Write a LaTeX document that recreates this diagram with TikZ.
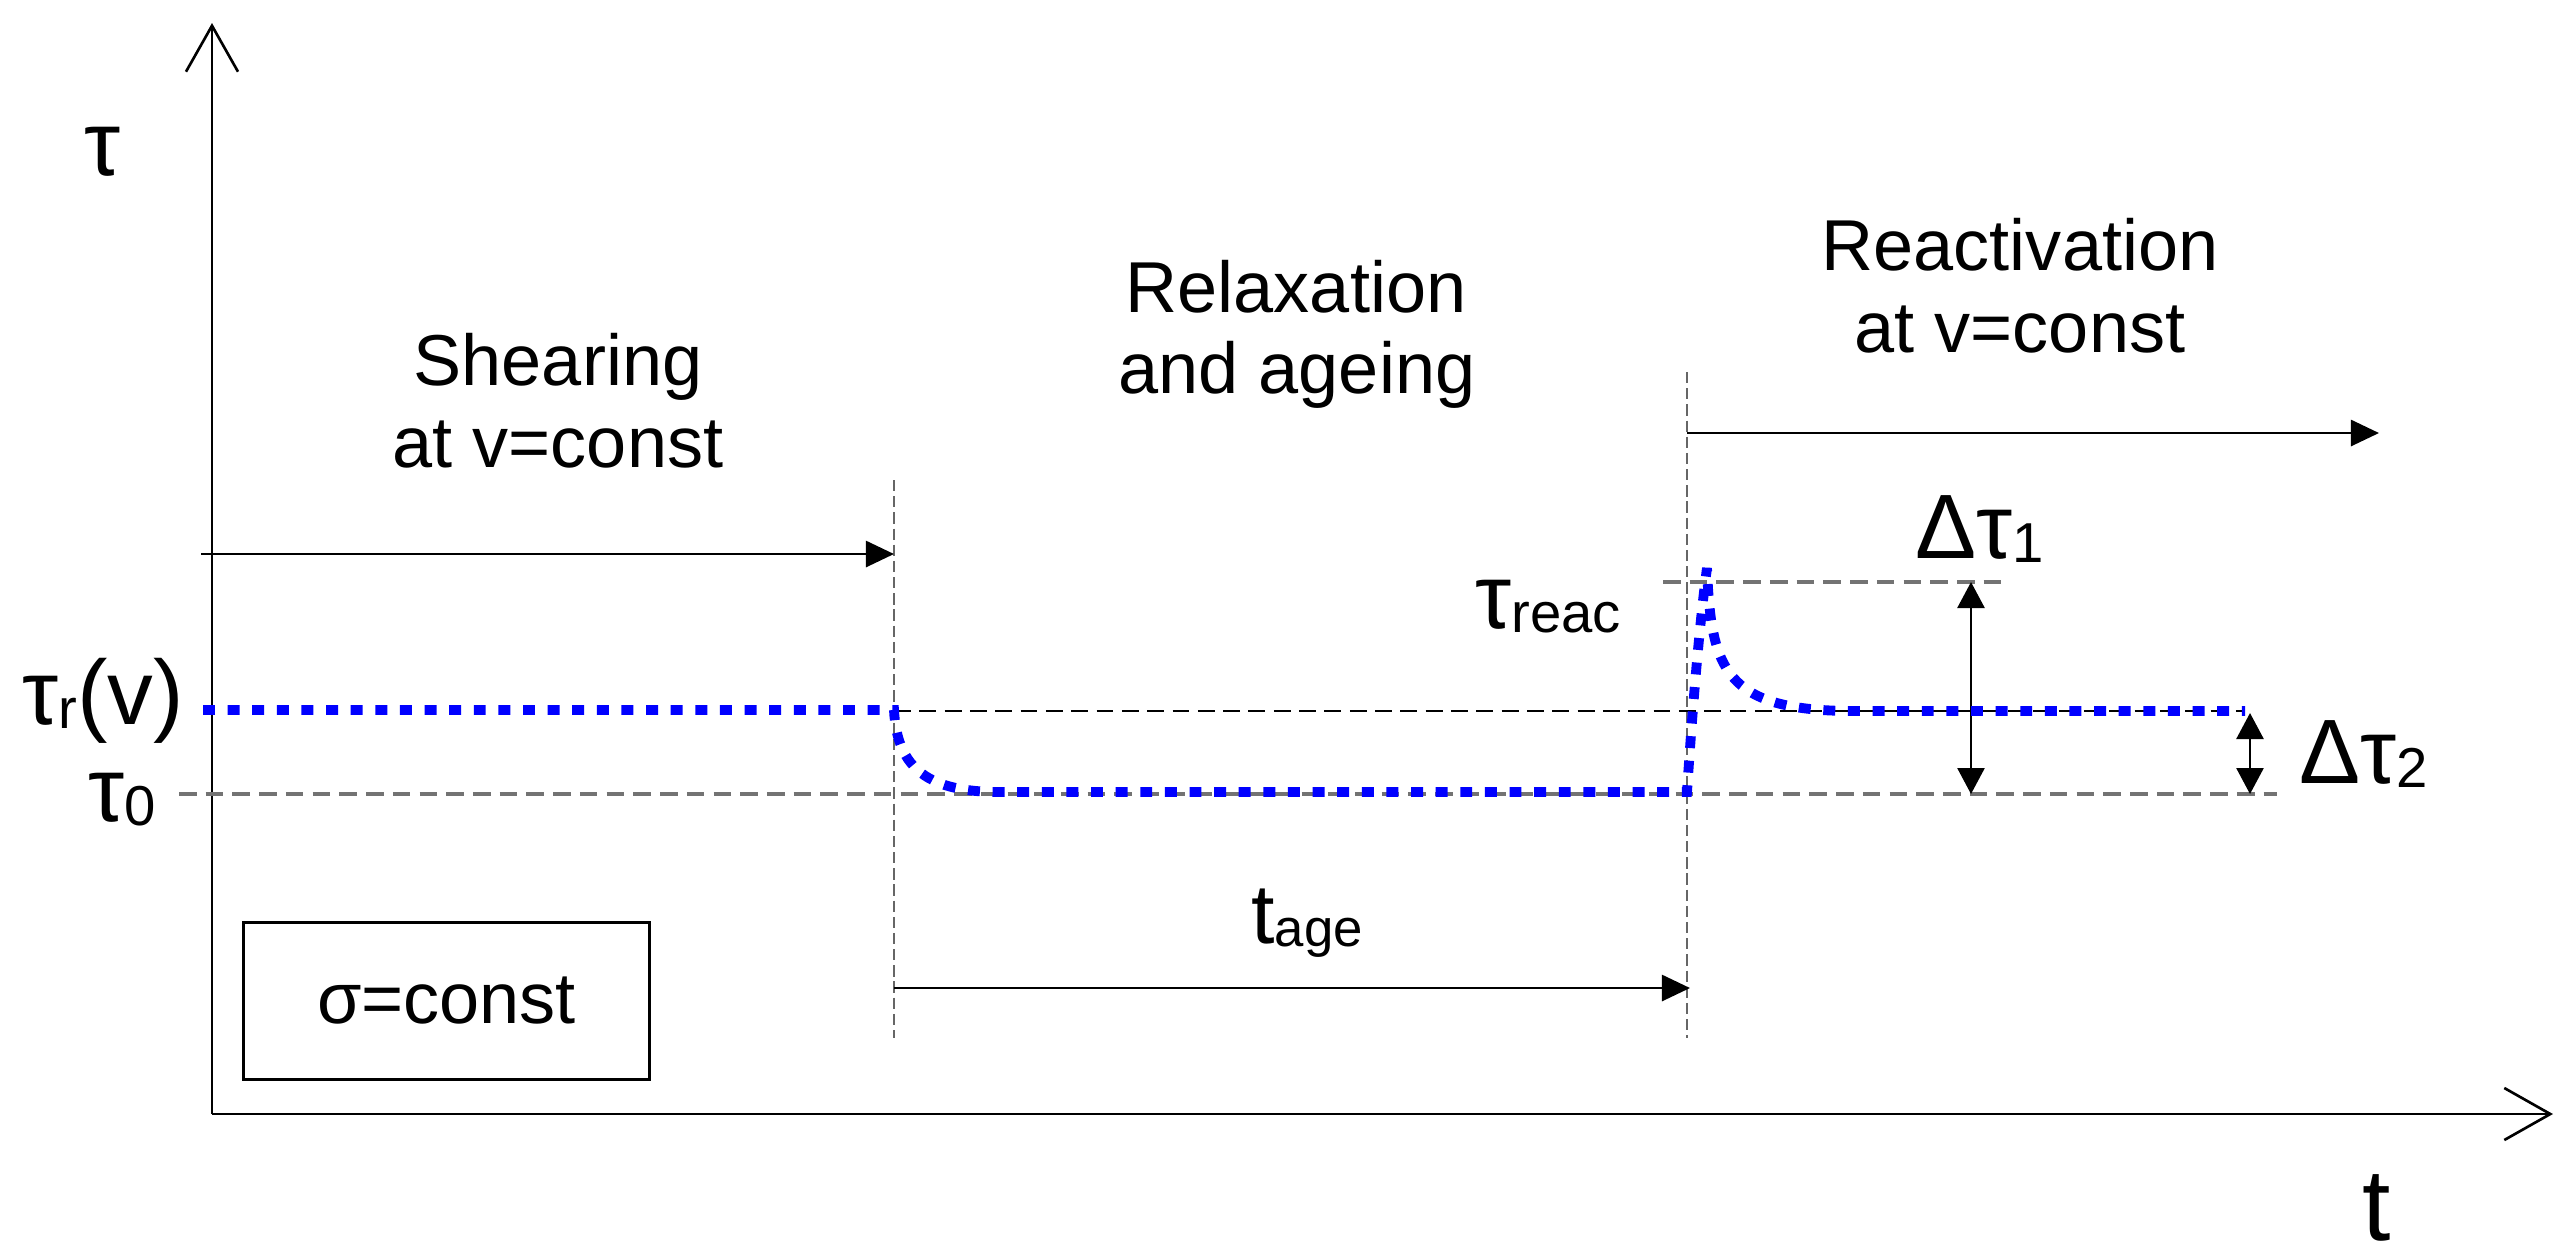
\documentclass[tikz,border=0pt]{standalone}
\usepackage{fontspec}
\setmainfont{Liberation Sans}
\usetikzlibrary{arrows.meta}
\newcommand\mysub[1]{\raisebox{-1.2pt}{\fontsize{16}{16}\selectfont #1}}
\begin{document}
\begin{tikzpicture}[x=0.01cm,y=-0.01cm,
  lbl/.style={inner sep=0pt, outer sep=0pt, font=\fontsize{20.5}{24}\selectfont},
  sym/.style={inner sep=0pt, outer sep=0pt, font=\fontsize{26}{30}\selectfont},
  axisarrow/.style={line width=0.75pt, -{Straight Barb[length=0.46cm,width=0.52cm,line width=0.75pt]}},
  phasearrow/.style={line width=0.75pt, -{Triangle[length=0.28cm,width=0.26cm]}},
  deltaarrow/.style={line width=0.75pt, {Triangle[length=0.26cm,width=0.27cm]}-{Triangle[length=0.26cm,width=0.27cm]}},
  hdash/.style={line width=0.6pt, dash pattern=on 4.8pt off 2.4pt, black},
  levdash/.style={line width=0.9pt, dash pattern=on 5pt off 2.6pt, black!55},
  vdash/.style={line width=0.5pt, dash pattern=on 3.2pt off 1.4pt, black!60},
  blueline/.style={line width=2.8pt, dash pattern=on 3.4pt off 3.6pt, blue}
]
\useasboundingbox (0,0) rectangle (2571,1259);

% coordinates
\coordinate (O) at (212,1114);
\coordinate (ytip) at (212,23);
\coordinate (xtip) at (2553,1114);
\coordinate (sh0) at (201,554);
\coordinate (sh1) at (894,554);
\coordinate (re0) at (1687,433);
\coordinate (re1) at (2379,433);
\coordinate (ag0) at (894,988);
\coordinate (ag1) at (1690,988);
\coordinate (v1top) at (894,480);
\coordinate (v1bot) at (894,1038);
\coordinate (v2top) at (1687,372);
\coordinate (v2bot) at (1687,1038);
\coordinate (rc0) at (1663,582);
\coordinate (rc1) at (2003,582);
\coordinate (tr0) at (894,711);
\coordinate (tr1) at (2245,711);
\coordinate (t00) at (179,794);
\coordinate (t01) at (2277,794);
\coordinate (d1a) at (1971,582);
\coordinate (d1b) at (1971,794);
\coordinate (d2a) at (2250,713);
\coordinate (d2b) at (2250,794);

% axes
\draw[axisarrow] (O) -- (ytip);
\draw[axisarrow] (O) -- (xtip);

% vertical phase separators
\draw[vdash] (v1top) -- (v1bot);
\draw[vdash] (v2top) -- (v2bot);

% level lines
\draw[levdash] (t00) -- (t01);
\draw[hdash] (tr0) -- (tr1);
\draw[levdash] (rc0) -- (rc1);

% phase arrows
\draw[phasearrow] (sh0) -- (sh1);
\draw[phasearrow] (re0) -- (re1);
\draw[phasearrow] (ag0) -- (ag1);

% delta arrows
\draw[deltaarrow] (d1a) -- (d1b);
\draw[deltaarrow] (d2a) -- (d2b);

% stress curve
\draw[blueline] (203,710) -- (894,710)
  .. controls (897,770) and (930,792) .. (1000,792) -- (1687,792)
  .. controls (1693,700) and (1700,620) .. (1707,568)
  .. controls (1711,670) and (1725,710) .. (1850,711) -- (2245,711);

% texts
\node[lbl, anchor=base] (sh1t) at (558,385) {Shearing};
\node[lbl, anchor=base] (sh2t) at (558,467) {at v=const};
\node[lbl, anchor=base] (rl1t) at (1296,312) {Relaxation};
\node[lbl, anchor=base] (rl2t) at (1297,393) {and ageing};
\node[lbl, anchor=base] (ra1t) at (2020,270) {Reactivation};
\node[lbl, anchor=base] (ra2t) at (2020,352) {at v=const};

\node[sym] (taulab) at (103,152) {τ};
\node[inner sep=0pt, font=\fontsize{29}{32}\selectfont, anchor=base] (tlab) at (2377,1240) {t};
\node[sym, anchor=base] (taur) at (103,724) {τ\mysub{r}(v)};
\node[sym, anchor=base] (tau0) at (122,821) {τ\mysub{0}};
\node[sym, anchor=base] (taureac) at (1548,628) {τ\mysub{reac}};
\node[sym, anchor=base] (dt1) at (1980,558) {Δτ\mysub{1}};
\node[sym, anchor=base] (dt2) at (2364,783) {Δτ\mysub{2}};
\node[inner sep=0pt, font=\fontsize{24}{28}\selectfont, anchor=base] (tage) at (1307,943) {t\raisebox{-1pt}{\fontsize{15}{15}\selectfont age}};

\node[draw, line width=0.8pt, minimum width=4.05cm, minimum height=1.57cm, inner sep=0pt, font=\fontsize{20.5}{24}\selectfont] (sigbox) at (446.5,1001) {σ=const};
\end{tikzpicture}
\end{document}
